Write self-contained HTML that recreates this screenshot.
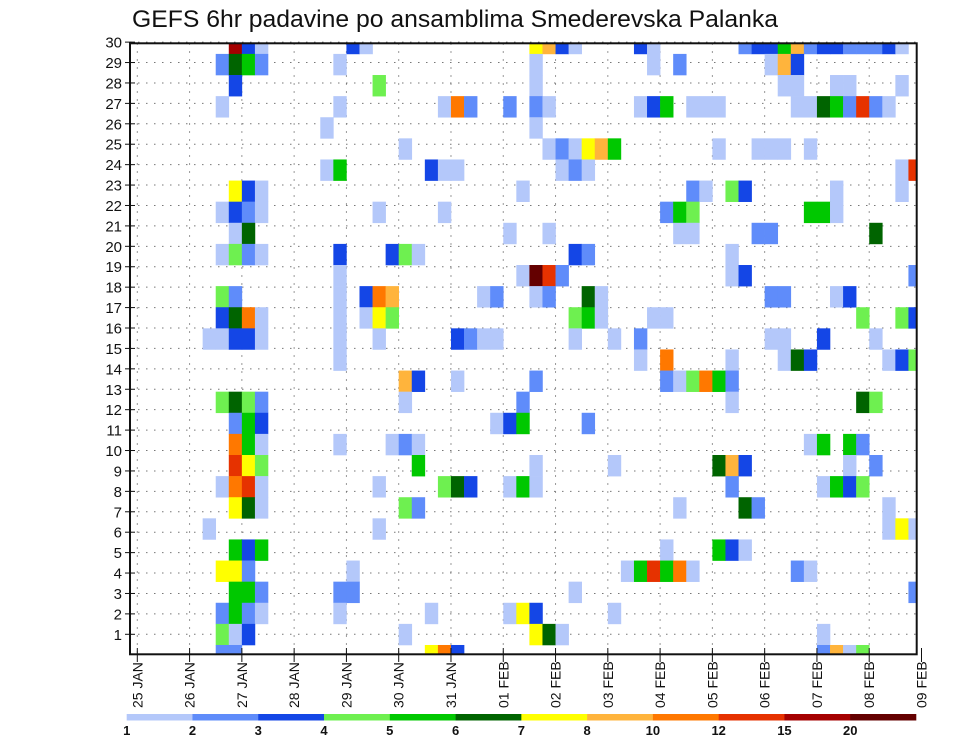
<!DOCTYPE html>
<html><head><meta charset="utf-8"><style>
html,body{margin:0;padding:0;background:#fff;}
svg{display:block;font-family:"Liberation Sans","DejaVu Sans",sans-serif;}
</style></head><body>
<svg id="chart" width="960" height="742" viewBox="0 0 960 742" xmlns="http://www.w3.org/2000/svg">
<rect x="0" y="0" width="960" height="742" fill="#fff"/>
<text x="132" y="27" font-size="24" fill="#111" textLength="646" lengthAdjust="spacingAndGlyphs">GEFS 6hr padavine po ansamblima Smederevska Palanka</text>
<defs><clipPath id="plotclip"><rect x="130" y="43.3" width="786.7" height="611"/></clipPath></defs>
<g id="grid"></g>
<g id="cells" clip-path="url(#plotclip)"></g>
<rect x="130" y="43.3" width="786.7" height="611" fill="none" stroke="#111" stroke-width="2"/>
<g id="yaxis"></g>
<g id="xaxis"></g>
<g id="colorbar"></g>
</svg>
<script>
// ---- data ----
const dayLabels = ["25 JAN","26 JAN","27 JAN","28 JAN","29 JAN","30 JAN","31 JAN","01 FEB","02 FEB","03 FEB","04 FEB","05 FEB","06 FEB","07 FEB","08 FEB","09 FEB"];
const memberTicks = [1,2,3,4,5,6,7,8,9,10,11,12,13,14,15,16,17,18,19,20,21,22,23,24,25,26,27,28,29,30];
const levelBounds = [1,2,3,4,5,6,7,8,10,12,15,20];
const levelColors = ["#b4c8fa","#5f8cfa","#1446e6","#6ef050","#00c800","#006400","#ffff00","#ffb43c","#ff7800","#e63200","#a50000","#640000"];
const cellMember = [
29,29,29,29,29,29,29,29,29,29,29,29,29,29,29,29,29,29,29,29,29,29,29,29,
28,28,28,28,28,28,28,28,28,28,28,
27,27,27,27,27,27,27,27,
26,26,26,26,26,26,26,26,26,26,26,26,26,26,26,26,26,26,26,26,26,26,
25,25,
24,24,24,24,24,24,24,24,24,24,24,24,
23,23,23,23,23,23,23,23,23,23,
22,22,22,22,22,22,22,22,22,22,
21,21,21,21,21,21,21,21,21,21,21,21,
20,20,20,20,20,20,20,20,20,
19,19,19,19,19,19,19,19,19,19,19,
18,18,18,18,18,18,18,18,
17,17,17,17,17,17,17,17,17,17,17,17,17,17,17,17,
16,16,16,16,16,16,16,16,16,16,16,16,16,16,16,16,
15,15,15,15,15,15,15,15,15,15,15,15,15,15,15,15,15,15,
14,14,14,14,14,14,14,14,14,14,
13,13,13,13,13,13,13,13,13,13,
12,12,12,12,12,12,12,12,12,
11,11,11,11,11,11,11,
10,10,10,10,10,10,10,10,10,10,10,
9,9,9,9,9,9,9,9,9,9,9,
8,8,8,8,8,8,8,8,8,8,8,8,8,8,8,8,
7,7,7,7,7,7,7,7,7,
6,6,6,6,6,
5,5,5,5,5,5,5,
4,4,4,4,4,4,4,4,4,4,4,4,
3,3,3,3,3,3,3,
2,2,2,2,2,2,2,2,2,2,
1,1,1,1,1,1,1,1,
0,0,0,0,0,0,0,0,0];
const cellStep = [
7,8,9,16,17,30,31,32,33,38,39,46,47,48,49,50,51,52,53,54,55,56,57,58,
6,7,8,9,15,30,39,41,48,49,50,
7,18,30,49,50,53,54,58,
6,15,23,24,25,28,30,31,38,39,40,42,43,44,50,51,52,53,54,55,56,57,
14,30,
20,31,32,33,34,35,36,44,47,48,49,51,
14,15,22,23,24,32,33,34,58,59,
7,8,9,29,42,43,45,46,53,58,
6,7,8,9,18,23,40,41,42,51,52,53,
7,8,28,31,41,42,47,48,56,
6,7,8,9,15,19,20,21,33,34,45,
15,29,30,31,32,45,46,59,
6,7,15,17,18,19,26,27,30,31,34,35,48,49,53,54,
6,7,8,9,15,17,18,19,33,34,35,39,40,55,58,59,
5,6,7,8,9,15,18,24,25,26,27,33,36,38,48,49,52,56,
15,38,40,45,49,50,51,57,58,59,
20,21,24,30,40,41,42,43,44,45,
6,7,8,9,20,29,45,55,56,
7,8,9,27,28,29,34,
7,8,9,15,19,20,21,51,52,54,55,
7,8,9,21,30,36,44,45,46,54,56,
6,7,8,9,18,23,24,25,28,29,30,45,52,53,54,55,
7,8,9,20,21,41,46,47,57,
5,18,57,58,59,
7,8,9,40,44,45,46,
6,7,8,16,37,38,39,40,41,42,50,51,
7,8,9,15,16,33,59,
6,7,8,9,15,22,28,29,30,36,
6,7,8,20,30,31,32,52,
6,7,22,23,24,52,53,54,55];
const cellPrecip = [
17,3.5,1.5,3.5,1.5,7.5,9,3.5,1.5,3.5,1.5,2.5,3.5,3.5,5.5,9,2.5,3.5,3.5,2.5,2.5,2.5,3.5,1.5,
2.5,6.5,5.5,2.5,1.5,1.5,1.5,2.5,1.5,9,3.5,
3.5,4.5,1.5,1.5,1.5,1.5,1.5,1.5,
1.5,1.5,1.5,11,2.5,2.5,2.5,1.5,1.5,3.5,5.5,1.5,1.5,1.5,1.5,1.5,6.5,5.5,2.5,13,2.5,1.5,
1.5,1.5,
1.5,1.5,2.5,1.5,7.5,9,5.5,1.5,1.5,1.5,1.5,1.5,
1.5,5.5,3.5,1.5,1.5,1.5,2.5,1.5,1.5,13,
7.5,3.5,1.5,1.5,2.5,1.5,4.5,3.5,1.5,1.5,
1.5,3.5,2.5,1.5,1.5,1.5,2.5,5.5,4.5,5.5,5.5,1.5,
1.5,6.5,1.5,1.5,1.5,1.5,2.5,2.5,6.5,
1.5,4.5,2.5,1.5,3.5,3.5,4.5,1.5,3.5,2.5,1.5,
1.5,1.5,25,13,2.5,1.5,3.5,2.5,
4.5,2.5,1.5,3.5,11,9,1.5,2.5,1.5,2.5,6.5,1.5,2.5,2.5,1.5,3.5,
3.5,6.5,11,1.5,1.5,1.5,7.5,4.5,4.5,5.5,1.5,1.5,1.5,4.5,4.5,3.5,
1.5,1.5,3.5,3.5,1.5,1.5,1.5,3.5,2.5,1.5,1.5,1.5,1.5,2.5,1.5,1.5,3.5,1.5,
1.5,1.5,11,1.5,1.5,6.5,3.5,1.5,3.5,4.5,
9,3.5,1.5,2.5,2.5,1.5,4.5,11,5.5,2.5,
4.5,6.5,4.5,2.5,1.5,2.5,1.5,6.5,4.5,
2.5,5.5,3.5,1.5,3.5,5.5,2.5,
11,5.5,1.5,1.5,1.5,2.5,1.5,1.5,5.5,5.5,2.5,
13,7.5,4.5,5.5,1.5,1.5,6.5,9,3.5,1.5,2.5,
1.5,11,13,1.5,1.5,4.5,6.5,3.5,1.5,5.5,1.5,2.5,1.5,5.5,3.5,4.5,
7.5,6.5,1.5,4.5,2.5,1.5,6.5,2.5,1.5,
1.5,1.5,1.5,7.5,1.5,
5.5,3.5,5.5,1.5,5.5,3.5,1.5,
7.5,7.5,2.5,1.5,1.5,5.5,13,5.5,11,1.5,2.5,1.5,
5.5,5.5,2.5,2.5,2.5,1.5,2.5,
2.5,5.5,2.5,1.5,1.5,1.5,1.5,7.5,3.5,1.5,
4.5,1.5,3.5,1.5,7.5,6.5,1.5,1.5,
2.5,2.5,7.5,11,3.5,2.5,9,1.5,4.5];

// ---- scales ----
const NS = "http://www.w3.org/2000/svg";
const X0 = 137.3, STEP_W = 13.07;
function xScale(step){ return X0 + step*STEP_W; }
const CELL_BOTTOM = 666.1, CELL_H = 21.11;
function yCellTop(member){ return CELL_BOTTOM - (member+1)*CELL_H; }
function yTick(label){ return 634.3 - (label-1)*20.42; }
function colorFor(v){
  let idx = 0;
  for (let i=0;i<levelBounds.length;i++){ if (v >= levelBounds[i]) idx = i; }
  return levelColors[idx];
}
function mk(tag, attrs){ const e=document.createElementNS(NS,tag); for(const k in attrs) e.setAttribute(k,attrs[k]); return e; }

// ---- grid ----
const grid = document.getElementById('grid');
memberTicks.forEach(function(L){
  const y = yTick(L);
  const ln = mk('line',{x1:130,x2:916.7,y1:y,y2:y,stroke:'#777','stroke-width':1,'stroke-dasharray':'1.5 6.5'});
  
  
  grid.appendChild(ln);
});
dayLabels.forEach(function(d,i){
  const x = xScale(i*4);
  if (x > 916.7) return;
  const ln = mk('line',{x1:x,x2:x,y1:43.3,y2:654.3,stroke:'#777','stroke-width':1,'stroke-dasharray':'1.5 6.5'});
  
  
  grid.appendChild(ln);
});

// ---- cells ----
const cells = document.getElementById('cells');
for (let i=0;i<cellPrecip.length;i++){
  const r = mk('rect',{x:xScale(cellStep[i]),y:yCellTop(cellMember[i]),width:STEP_W+0.3,height:CELL_H+0.3,fill:colorFor(cellPrecip[i])});
  
  
  cells.appendChild(r);
}

// ---- y axis ----
const yax = document.getElementById('yaxis');
memberTicks.forEach(function(L){
  const y = yTick(L);
  const t = mk('text',{x:122,y:y+5.5,'text-anchor':'end','font-size':15,fill:'#111'});
  t.textContent = L;
  
  
  yax.appendChild(t);
  const tk = mk('line',{x1:125,x2:135,y1:y,y2:y,stroke:'#111','stroke-width':1});
  
  
  yax.appendChild(tk);
});

// ---- x axis ----
const xax = document.getElementById('xaxis');
dayLabels.forEach(function(d,i){
  const x = xScale(i*4);
  const tk = mk('line',{x1:x,x2:x,y1:648,y2:662,stroke:'#111','stroke-width':1});
  
  
  xax.appendChild(tk);
  const t = mk('text',{x:0,y:0,'font-size':14,fill:'#111','text-anchor':'start',transform:'translate('+(x+5)+',708) rotate(-90)'});
  t.textContent = d;
  
  
  xax.appendChild(t);
});

// ---- colorbar ----
const cb = document.getElementById('colorbar');
const CB_X = 126.7, CB_W = (916 - 126.7)/levelColors.length;
levelColors.forEach(function(c,i){
  const r = mk('rect',{x:CB_X+i*CB_W,y:714,width:CB_W+0.3,height:6.5,fill:c});
  
  
  cb.appendChild(r);
});
levelBounds.forEach(function(b,i){
  const t = mk('text',{x:CB_X+i*CB_W,y:735,'text-anchor':'middle','font-size':13,'font-weight':'bold',fill:'#111'});
  t.textContent = b;
  
  
  cb.appendChild(t);
});
</script>
</body></html>
